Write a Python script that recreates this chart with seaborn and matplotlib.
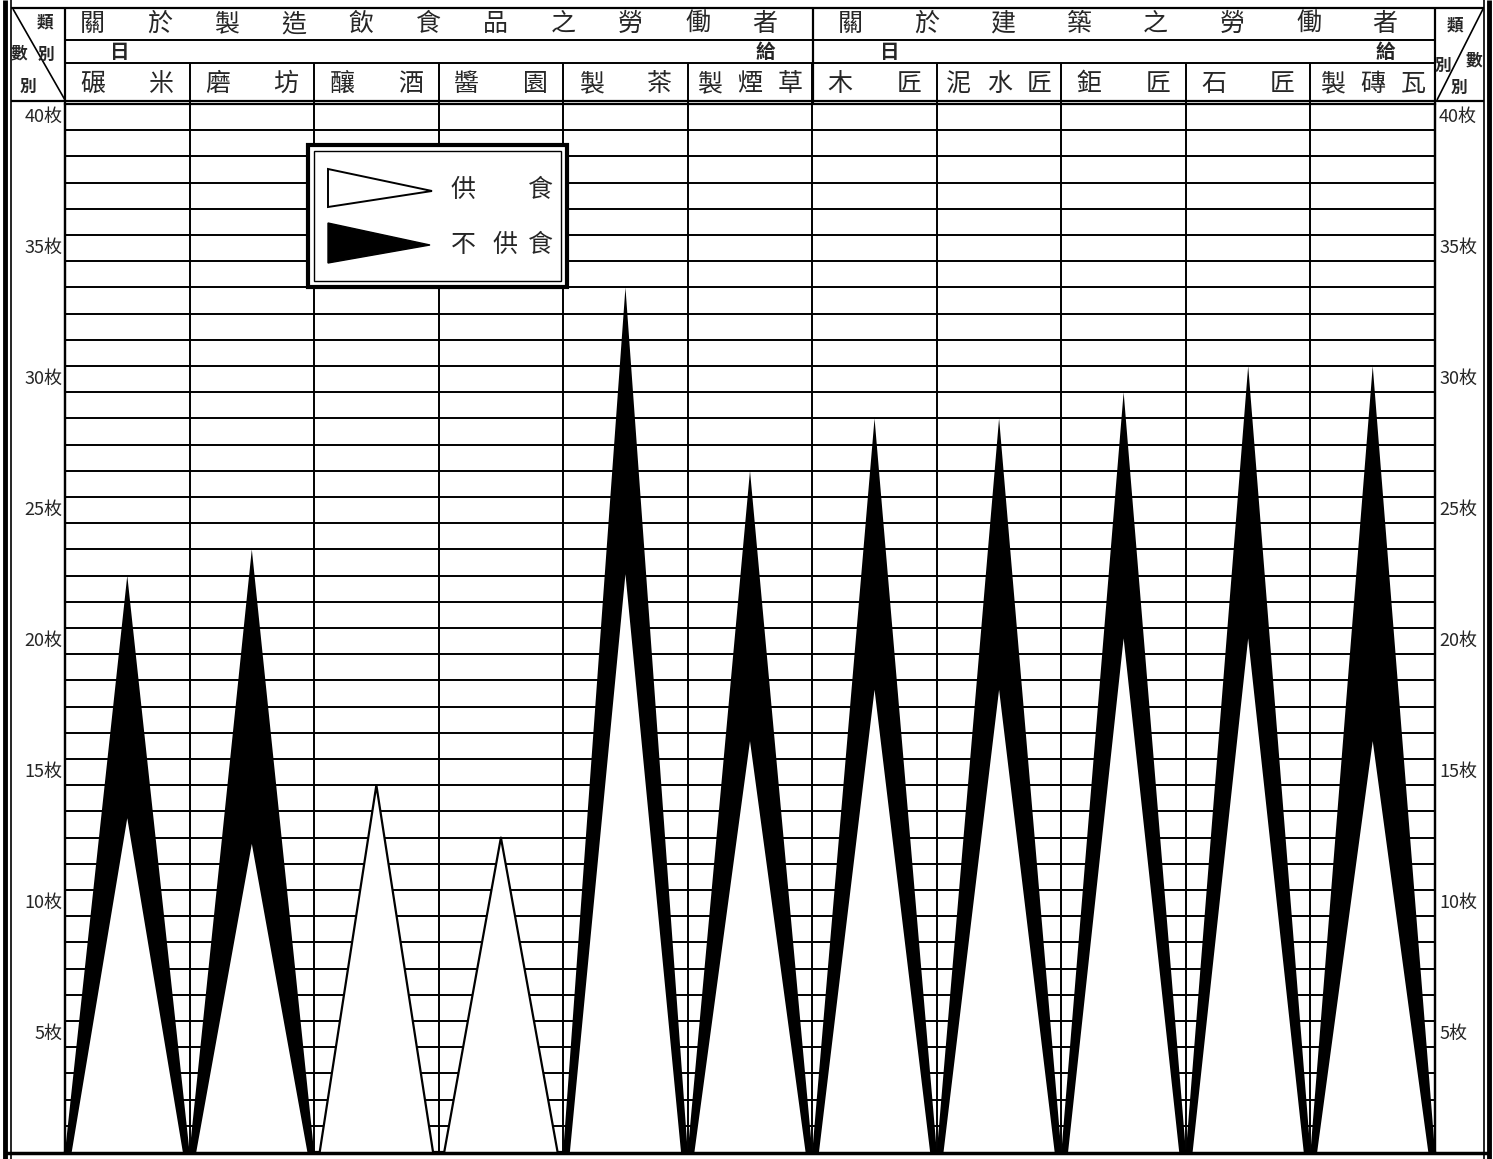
# -*- coding: utf-8 -*-
"""
日給 比較圖：供食 / 不供食 (製造飲食品之勞働者・建築之勞働者)
"""
import numpy as np
import pandas as pd
import seaborn as sns
import matplotlib.pyplot as plt
from matplotlib.patches import Rectangle, Polygon

# 資料
categories = ["碾米", "磨坊", "釀酒", "醬園", "製茶", "製煙草",
              "木匠", "泥水匠", "鉅匠", "石匠", "製磚瓦"]
with_food = [13, 12, 14, 12, 22.5, 16, 18, 18, 20, 20, 16]           # 供食
without_food = [22, 23, None, None, 33, 26, 28, 28, 29, 30, 30]      # 不供食
ytick_vals = [5, 10, 15, 20, 25, 30, 35, 40]
ytick_labels = ["5枚", "10枚", "15枚", "20枚", "25枚", "30枚", "35枚", "40枚"]
group_titles = ["關於製造飲食品之勞働者", "關於建築之勞働者"]
legend_labels = ["供食", "不供食"]

# 三角形頂點 (長格式)；白三角底邊略窄
half = {"不供食": 0.5, "供食": 0.455}
rows = []
for i, (cat, g, b) in enumerate(zip(categories, with_food, without_food)):
    for kind, val in [("不供食", b), ("供食", g)]:
        if val is None:
            continue
        h = half[kind]
        for k, (dx, yy) in enumerate([(-h, 0), (0, val), (h, 0)]):
            rows.append({"cat": cat, "kind": kind, "x": i + dx, "y": yy, "order": k})
tri_df = pd.DataFrame(rows)

sns.set_theme(style="white")
plt.rcParams['font.family'] = ['Noto Sans CJK TC', 'Noto Sans CJK JP', 'DejaVu Sans']

W, H = 1493, 1159
X0, X1, Y0, Y1 = 65, 1435, 104, 1152
fig = plt.figure(figsize=(W / 100, H / 100), dpi=100)
ax = fig.add_axes([X0 / W, 1 - Y1 / H, (X1 - X0) / W, (Y1 - Y0) / H])

# 不供食 (黑) 先畫
for cat, d in tri_df[tri_df["kind"] == "不供食"].groupby("cat", sort=False):
    ax.fill(d["x"], d["y"], color="black", lw=0, zorder=3)
# 供食 (白) 疊上
white_df = tri_df[tri_df["kind"] == "供食"]
for cat, d in white_df.groupby("cat", sort=False):
    ax.fill(d["x"], d["y"], color="white", lw=0, zorder=4)
sns.lineplot(data=white_df, x="x", y="y", units="cat", estimator=None,
             sort=False, color="black", lw=1.6, ax=ax, legend=False, zorder=5)

ax.set_xlim(-0.5, len(categories) - 0.5)
ax.set_ylim(0, 40)
ax.set_yticks(range(0, 41))
ax.set_xticks(np.arange(0.5, len(categories) - 0.5, 1))
ax.grid(True, color="black", lw=1.4)
ax.set_axisbelow(True)
ax.set_xticklabels([])
ax.set_yticklabels([])
ax.tick_params(length=0)
ax.set_xlabel("")
ax.set_ylabel("")
for s in ax.spines.values():
    s.set_color("black")
    s.set_linewidth(1.6)

# Y 軸標籤 (左右)
tr = ax.get_yaxis_transform()
for v, lab in zip(ytick_vals, ytick_labels):
    ax.text(-0.002, v - 0.5, lab, transform=tr, ha="right", va="center",
            fontsize=13, style="italic", clip_on=False)
    ax.text(1.003, v - 0.5, lab, transform=tr, ha="left", va="center",
            fontsize=13, style="italic", clip_on=False)

# 表頭 (像素座標)
hd = fig.add_axes([0, 0, 1, 1])
hd.set_xlim(0, W)
hd.set_ylim(H, 0)
hd.axis("off")
lk = dict(color="black", solid_capstyle="butt")

# 外框
hd.plot([5, 5], [0, H], lw=3.5, **lk)
hd.plot([11, 11], [0, H], lw=1.2, **lk)
hd.plot([1489, 1489], [0, H], lw=3.5, **lk)
hd.plot([1484, 1484], [0, H], lw=1.2, **lk)
hd.plot([5, 1489], [1153, 1153], lw=2.5, **lk)
hd.plot([11, 1484], [8, 8], lw=1.6, **lk)
hd.plot([X0, X1], [40, 40], lw=1.4, **lk)
hd.plot([X0, X1], [63, 63], lw=1.4, **lk)
hd.plot([11, 1484], [101, 101], lw=1.6, **lk)
for xx in [X0, X1, 813]:
    hd.plot([xx, xx], [8, 104], lw=1.6, **lk)
hd.plot([X0, X0], [104, Y1], lw=1.6, **lk)
hd.plot([X1, X1], [104, Y1], lw=1.6, **lk)

col_edges = X0 + np.arange(len(categories) + 1) * (X1 - X0) / len(categories)
for xx in col_edges[1:-1]:
    hd.plot([xx, xx], [63, 104], lw=1.4, **lk)

# 左右角格
hd.plot([13, X0], [9, 100], lw=1.2, **lk)
hd.plot([X1 + 2, 1483], [100, 9], lw=1.2, **lk)
ck = dict(fontsize=12, ha="center", va="center", fontweight="bold")
hd.text(45, 22, "類", **ck)
hd.text(19, 53, "數", **ck)
hd.text(46, 55, "別", **ck)
hd.text(28, 87, "別", **ck)
hd.text(1455, 25, "類", **ck)
hd.text(1474, 60, "數", **ck)
hd.text(1443, 66, "別", **ck)
hd.text(1459, 88, "別", **ck)

# 大標題
tk = dict(fontsize=18, ha="center", va="center", fontweight="medium")
for ch, xx in zip(group_titles[0], np.linspace(92, 765, len(group_titles[0]))):
    hd.text(xx, 24, ch, **tk)
for ch, xx in zip(group_titles[1], np.linspace(850, 1385, len(group_titles[1]))):
    hd.text(xx, 24, ch, **tk)
for ch, xx in [("日", 120), ("給", 765), ("日", 890), ("給", 1385)]:
    hd.text(xx, 52, ch, fontsize=14, ha="center", va="center", fontweight="bold")

# 科別名稱
for i, cat in enumerate(categories):
    l, r = col_edges[i], col_edges[i + 1]
    pad = 28 if len(cat) == 2 else 22
    for ch, xx in zip(cat, np.linspace(l + pad, r - pad, len(cat))):
        hd.text(xx, 84, ch, **tk)

# 圖例
hd.add_patch(Rectangle((308, 145), 259, 142, facecolor="white",
                       edgecolor="black", lw=3, zorder=6))
hd.add_patch(Rectangle((314, 151), 247, 130, facecolor="none",
                       edgecolor="black", lw=1, zorder=7))
hd.add_patch(Polygon([(328, 169), (328, 207), (432, 191)], closed=True,
                     facecolor="white", edgecolor="black", lw=1.4, zorder=7))
hd.add_patch(Polygon([(328, 223), (328, 263), (430, 245)], closed=True,
                     facecolor="black", edgecolor="black", lw=1, zorder=7))
lg = dict(fontsize=18, ha="center", va="center", zorder=8, fontweight="medium")
for ch, xx in zip(legend_labels[0], [463, 540]):
    hd.text(xx, 190, ch, **lg)
for ch, xx in zip(legend_labels[1], [463, 505, 540]):
    hd.text(xx, 245, ch, **lg)

fig.savefig("out.png", dpi=100)
